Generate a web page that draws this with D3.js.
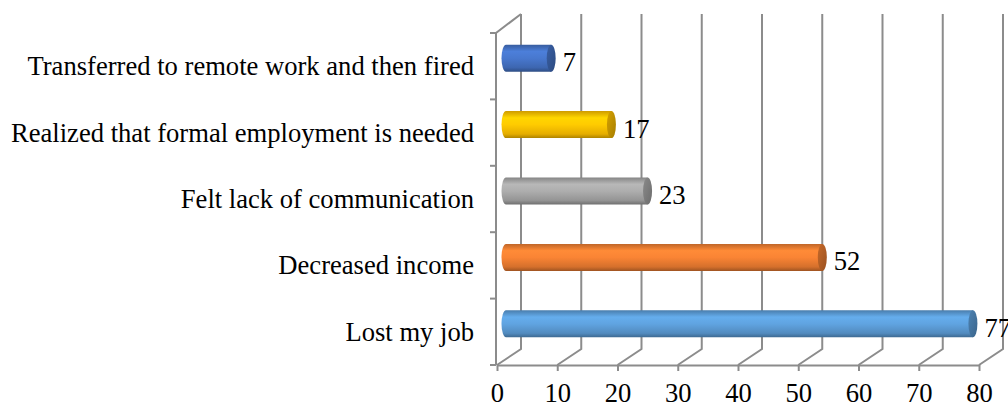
<!DOCTYPE html>
<html>
<head>
<meta charset="utf-8">
<script src="https://cdn.jsdelivr.net/npm/d3@7"></script>
<style>
  body { margin: 0; background: #fff; }
  text { font-family: "Liberation Serif", "Times New Roman", serif; fill: #000; }
</style>
</head>
<body>
<svg width="1008" height="407"></svg>
<script>
// Chart data, top to bottom as drawn
var categories = ['Transferred to remote work and then fired',
    'Realized that formal employment is needed',
    'Felt lack of communication',
    'Decreased income',
    'Lost my job'];
var values = [7, 17, 23, 52, 77];
var tickValues = [0, 10, 20, 30, 40, 50, 60, 70, 80];

// one base colour per bar
var barColors = ['#4472c4', '#ffc000', '#a5a5a5', '#ed7d31', '#5b9bd5'];

var svg = d3.select('svg');

// front plane of the 3D box
var frontLeft = 497, frontRight = 979, frontTop = 33, floorY = 365;
// depth offset for the back wall
var depth = {dx: 24, dy: -16};
var backTop = 14;
var fontSize = '26.6px';

var x = d3.scaleLinear().domain([0, 80]).range([frontLeft, frontRight]);
var y = d3.scaleBand().domain(categories).range([frontTop, floorY]);

var gridColor = '#8c8c8c';

// gradients for the cylinder look
var defs = svg.append('defs');
barColors.forEach(function(c, i) {
    var base = d3.color(c);
    var g = defs.append('linearGradient')
        .attr('id', 'grad' + i)
        .attr('x1', 0).attr('y1', 0).attr('x2', 0).attr('y2', 1);
    g.append('stop').attr('offset', '0%').attr('stop-color', base.darker(0.6));
    g.append('stop').attr('offset', '25%').attr('stop-color', base.brighter(0.3));
    g.append('stop').attr('offset', '50%').attr('stop-color', base.brighter(0.15));
    g.append('stop').attr('offset', '85%').attr('stop-color', base.darker(0.3));
    g.append('stop').attr('offset', '100%').attr('stop-color', base.darker(1.1));
    var gc = defs.append('linearGradient')
        .attr('id', 'cap' + i)
        .attr('x1', 0).attr('y1', 0).attr('x2', 1).attr('y2', 1);
    gc.append('stop').attr('offset', '0%').attr('stop-color', base.darker(0.5));
    gc.append('stop').attr('offset', '100%').attr('stop-color', base.darker(1.2));
});

// back wall gridlines with floor diagonals
var grid = svg.append('g').attr('class', 'grid');
grid.selectAll('.gline')
    .data(tickValues)
    .enter().append('path')
    .attr('class', 'gline')
    .attr('d', function(d) {
        var bx = x(d) + depth.dx;
        return 'M' + bx + ',' + backTop + 'L' + bx + ',' + (floorY + depth.dy) +
            'L' + x(d) + ',' + floorY;
    })
    .attr('fill', 'none')
    .attr('stroke', gridColor)
    .attr('stroke-width', 2);

// left side wall
grid.append('path')
    .attr('d', 'M' + (frontLeft - 1) + ',' + floorY + 'L' + (frontLeft - 1) + ',' + frontTop +
        'L' + (x(0) + depth.dx) + ',' + backTop)
    .attr('fill', 'none')
    .attr('stroke', gridColor)
    .attr('stroke-width', 2);

// category ticks on the side wall
var bounds = categories.map(function(c) { return y(c); }).concat([floorY]);
grid.selectAll('.ytick')
    .data(bounds)
    .enter().append('line')
    .attr('x1', frontLeft - 7).attr('x2', frontLeft - 1)
    .attr('y1', function(d) { return d; }).attr('y2', function(d) { return d; })
    .attr('stroke', gridColor)
    .attr('stroke-width', 2);

// x axis along the front floor edge
var xAxis = d3.axisBottom(x)
    .tickValues(tickValues)
    .tickSize(6)
    .tickSizeOuter(0)
    .tickPadding(6);

var axisG = svg.append('g')
    .attr('transform', 'translate(0,' + floorY + ')')
    .call(xAxis);
axisG.select('.domain').attr('stroke', gridColor).attr('stroke-width', 2);
axisG.selectAll('.tick line').attr('stroke', gridColor).attr('stroke-width', 2);
axisG.selectAll('.tick text')
    .style('font-size', fontSize)
    .attr('y', 37)
    .attr('dy', null);

// category labels
svg.selectAll('.label')
    .data(categories)
    .enter().append('text')
    .attr('class', 'label')
    .attr('x', 474)
    .attr('y', function(d) { return y(d) + y.bandwidth() / 2 + 9; })
    .attr('text-anchor', 'end')
    .style('font-size', fontSize)
    .text(function(d) { return d; });

// cylinders
var barH = 27, rx = 4.5;
var bars = svg.selectAll('.bar')
    .data(values)
    .enter().append('g')
    .attr('class', 'bar');

function barCenter(i) {
    return y(categories[i]) + y.bandwidth() / 2 + depth.dy / 2;
}
function barX(v) {
    return x(v) + depth.dx / 2;
}

bars.append('path')
    .attr('d', function(d, i) {
        var cy = barCenter(i), x0 = barX(0) - 3, x1 = barX(d);
        var t = cy - barH / 2, b = cy + barH / 2;
        return 'M' + x1 + ',' + t + 'L' + x0 + ',' + t +
            'A' + rx + ',' + (barH / 2) + ' 0 0 0 ' + x0 + ',' + b +
            'L' + x1 + ',' + b + 'Z';
    })
    .attr('fill', function(d, i) { return 'url(#grad' + i + ')'; });

bars.append('ellipse')
    .attr('cx', function(d) { return barX(d); })
    .attr('cy', function(d, i) { return barCenter(i); })
    .attr('rx', rx)
    .attr('ry', barH / 2)
    .attr('fill', function(d, i) { return 'url(#cap' + i + ')'; });

// value labels
bars.append('text')
    .attr('x', function(d) { return barX(d) + rx + 7; })
    .attr('y', function(d, i) { return barCenter(i) + 13; })
    .style('font-size', fontSize)
    .text(function(d) { return d; });
</script>
</body>
</html>
